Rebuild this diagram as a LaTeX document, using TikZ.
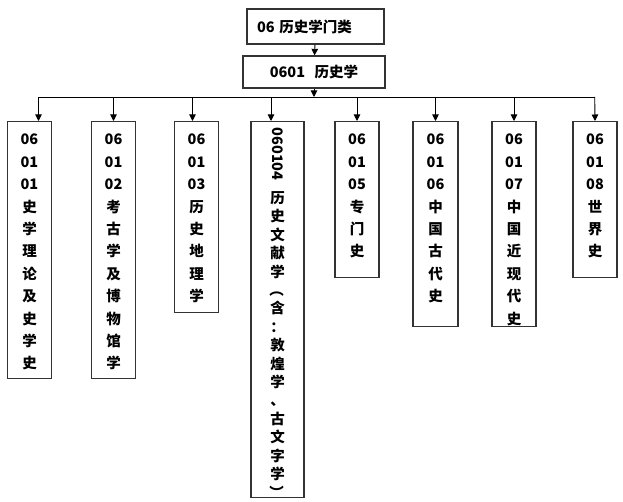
\documentclass[tikz,border=0pt]{standalone}
\usepackage{fontspec}
\newfontfamily\cjk{Noto Sans CJK SC}
\usetikzlibrary{arrows.meta}
\newcommand\leafbox[3]{\parbox[c][#1][t]{#2}{\centering\vspace*{12.5pt}#3}}
\newcommand\turnpunct[1]{\rotatebox[origin=c]{-90}{#1}}

\begin{document}
\begin{tikzpicture}[x=1pt,y=-1pt,
    box/.style={draw=black!80,line width=1.3pt,inner sep=0pt,font=\cjk\bfseries\fontsize{14.5}{22.4}\selectfont},
    arr/.style={-{Triangle[length=6.5pt,width=6.5pt]},line width=0.9pt}]
    \def\ytop{121}
    \def\ybus{97}
    \useasboundingbox (0,0) rectangle (623,502);
    \node[box,minimum height=35pt,inner xsep=10pt,text width=117pt,align=left] (cat) at (315.5,26.5) {06 历史学门类};
    \node[box,minimum height=32pt,inner xsep=11pt,text width=120pt,align=center] (hist) at (314,72) {0601\ \ 历史学};
    \node[box,anchor=north] (b1) at (29.5,\ytop) {\leafbox{257pt}{44pt}{06\\01\\01\\史\\学\\理\\论\\及\\史\\学\\史}};
    \node[box,anchor=north] (b2) at (113.5,\ytop) {\leafbox{257pt}{44pt}{06\\01\\02\\考\\古\\学\\及\\博\\物\\馆\\学}};
    \node[box,anchor=north] (b3) at (196.5,\ytop) {\leafbox{191pt}{44pt}{06\\01\\03\\历\\史\\地\\理\\学}};
    \node[box,anchor=north] (b4) at (277.5,\ytop) {\parbox[c][376pt][t]{53pt}{\centering\fontsize{14.5}{18.4}\selectfont\vspace*{6pt}\rotatebox{-90}{060104}\\[10pt]历\\史\\文\\献\\学\\\turnpunct{（}\\含\\：\\敦\\煌\\学\\、\\古\\文\\字\\学\\\turnpunct{）}}};
    \node[box,anchor=north] (b5) at (357,\ytop) {\leafbox{156pt}{44pt}{06\\01\\05\\专\\门\\史}};
    \node[box,anchor=north] (b6) at (435.5,\ytop) {\leafbox{205pt}{45pt}{06\\01\\06\\中\\国\\古\\代\\史}};
    \node[box,anchor=north] (b7) at (514,\ytop) {\leafbox{205pt}{44pt}{06\\01\\07\\中\\国\\近\\现\\代\\史}};
    \node[box,anchor=north] (b8) at (595,\ytop) {\leafbox{156pt}{44pt}{06\\01\\08\\世\\界\\史}};
    \coordinate (busl) at (38.5,\ybus);
    \coordinate (busr) at (594.7,\ybus);
    \draw [arr] (cat) -- (hist);
    \draw [arr] (hist.south) -- (hist.south |- busl);
    \draw [line width=0.9pt] (busl) -- (busr);
    \draw [arr] (busl) -- ([xshift=9pt]b1.north);
    \draw [arr] (b2.north |- busl) -- (b2.north);
    \draw [arr] ([xshift=-4pt]b3.north |- busl) -- ([xshift=-4pt]b3.north);
    \draw [arr] ([xshift=-6.5pt]b4.north |- busl) -- ([xshift=-6.5pt]b4.north);
    \draw [arr] (b5.north |- busl) -- (b5.north);
    \draw [arr] (b6.north |- busl) -- (b6.north);
    \draw [arr] (b7.north |- busl) -- (b7.north);
    \draw [arr] (busr) -- (b8.north);
\end{tikzpicture}
\end{document}
